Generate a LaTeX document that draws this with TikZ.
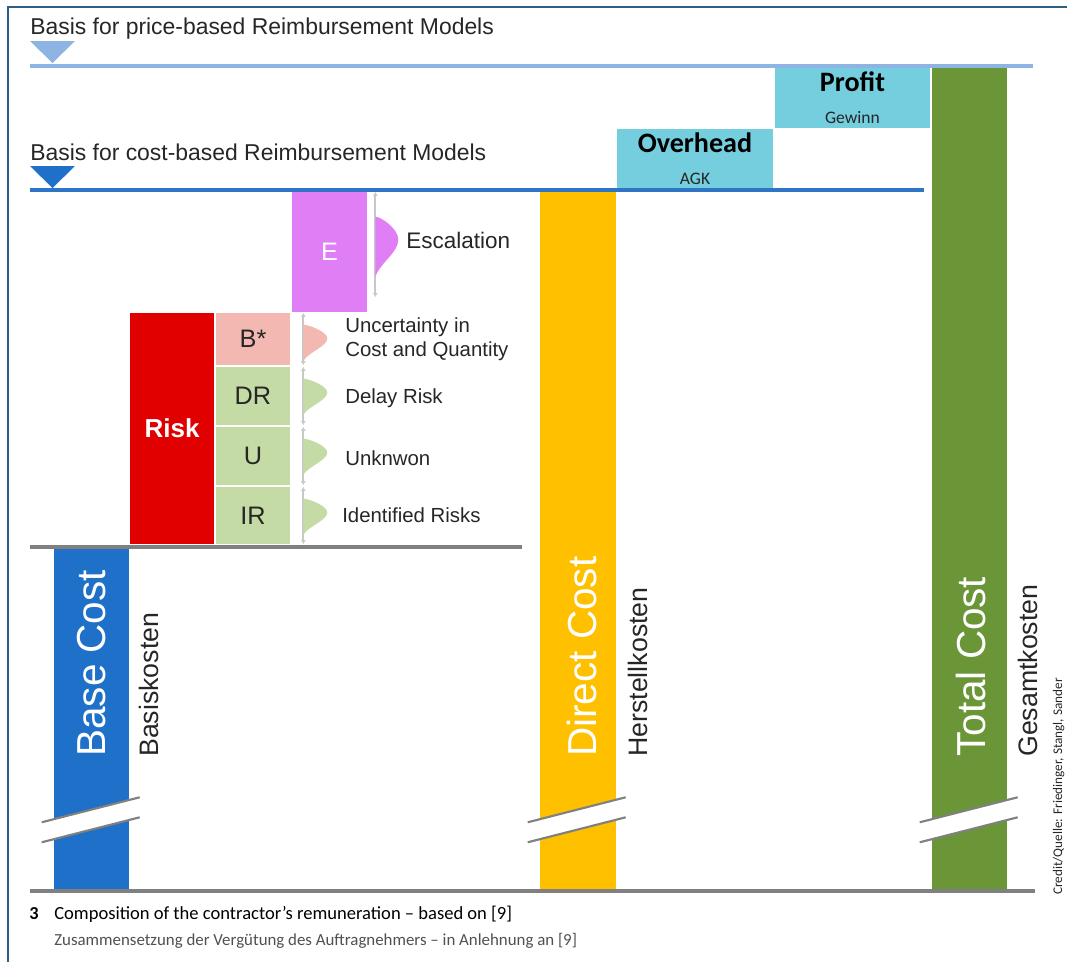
\documentclass[tikz,border=0pt]{standalone}
\usepackage{fontspec}
\setmainfont{Liberation Sans}
\newfontfamily\calibri{Carlito}
\usetikzlibrary{arrows.meta}

\definecolor{framebl}{RGB}{45,96,128}
\definecolor{pricebl}{RGB}{141,180,226}
\definecolor{costbl}{RGB}{46,117,198}
\definecolor{basebl}{RGB}{31,112,200}
\definecolor{ohcyan}{RGB}{116,206,222}
\definecolor{totalgr}{RGB}{107,150,55}
\definecolor{directye}{RGB}{255,192,0}
\definecolor{riskred}{RGB}{224,0,0}
\definecolor{uncpink}{RGB}{244,184,178}
\definecolor{riskgr}{RGB}{196,219,166}
\definecolor{escviol}{RGB}{224,126,246}
\definecolor{axisgr}{RGB}{128,128,128}
\definecolor{dimgr}{RGB}{200,200,200}
\definecolor{txtgr}{RGB}{38,38,38}
\definecolor{capgr}{RGB}{80,80,80}

\begin{document}
\begin{tikzpicture}[x=0.25mm, y=-0.25mm, inner sep=0pt, text=txtgr,
  fs/.style={font=\fontsize{#1}{#1}\selectfont},
  cell/.style 2 args={minimum width=#1*0.25mm, minimum height=#2*0.25mm},
  dim/.style={dimgr, line width=1.2pt, {Latex[length=3pt,width=3.5pt]}-{Latex[length=3pt,width=3.5pt]}},
  level/.style={line width=2.2pt},
  breakmark/.style={axisgr, line width=1.5pt},
  upright/.style={rotate=90, anchor=base west},
  bell/.pic={\fill[pic actions] (0,0) .. controls (0.25,0) and (1,0.2) .. (1,0.38)
    .. controls (1,0.6) and (0.25,0.75) .. (0,1) -- cycle;}]

\useasboundingbox (0,0) rectangle (1067,962);
\draw[framebl, line width=1.3pt] (8,962) -- (8,7) -- (1067,7);

% cost bars
\node[cell={75}{822}, fill=totalgr] (total) at (969.5,479) {};
\node[cell={76}{698}, fill=directye] (direct) at (578,541) {};
\node[cell={75}{341}, fill=basebl] (base) at (91.5,719.5) {};
\node[cell={156}{60}, fill=ohcyan] (overhead) at (695,159) {};
\node[cell={155}{60}, fill=ohcyan] (profit) at (852.5,98) {};
\node[cell={75}{120}, fill=escviol, fs=18, text=white] (esc) at (329.5,252) {E};
\node[cell={84}{231}, fill=riskred, fs=18.5, text=white] (risk) at (172,428.5) {\bfseries Risk};

% risk parts with their spread
\foreach \nm/\txt/\yc/\hgt/\col in {bstar/B*/339/52/uncpink, dr/DR/396/58/riskgr,
    u/U/456/58/riskgr, ir/IR/515.5/57/riskgr} {
  \node[cell={74}{\hgt}, fill=\col, fs=18] (\nm) at (253,\yc) {\txt};
  \draw[dim] ([xshift=3.25mm]\nm.north east) -- ([xshift=3.25mm]\nm.south east);
  \pic[fill=\col, xscale=24, yscale=36] at ([xshift=3.25mm, yshift=-3mm]\nm.north east) {bell};
}
\draw[dim] ([xshift=2mm]esc.north east) -- ([xshift=2mm, yshift=3.75mm]esc.south east);
\pic[fill=escviol, xscale=23, yscale=60] at ([xshift=2mm, yshift=-6.25mm]esc.north east) {bell};

\node[fs=16, anchor=west] (esclbl) at (406,240) {Escalation};
\node[anchor=west, align=left, font=\fontsize{14.5}{17}\selectfont] (unclbl) at (345,339) {Uncertainty in\\Cost and Quantity};
\node[fs=14.5, anchor=west] (drlbl) at (345,398) {Delay Risk};
\node[fs=14.5, anchor=west] (ulbl) at (345,458) {Unknwon};
\node[fs=14.5, anchor=west] (irlbl) at (342,515) {Identified Risks};

% overhead and profit
\node[font=\calibri\bfseries\fontsize{20}{20}\selectfont, text=black] (ohlbl) at ([yshift=-3.5mm]overhead.north) {Overhead};
\node[font=\calibri\fontsize{12.5}{12.5}\selectfont] (agk) at ([yshift=2.5mm]overhead.south) {AGK};
\node[font=\calibri\bfseries\fontsize{20}{20}\selectfont, text=black] (prlbl) at ([yshift=-3.5mm]profit.north) {Profit};
\node[font=\calibri\fontsize{12.5}{12.5}\selectfont] (gewinn) at ([yshift=2.75mm]profit.south) {Gewinn};

% reimbursement levels
\fill[pricebl] (30,41) -- (75,41) -- (52.5,63) -- cycle;
\draw[pricebl, level] (30,66) -- (1033,66);
\node[fs=16.3, anchor=base west] (pricetxt) at (30,34) {Basis for price-based Reimbursement Models};
\fill[basebl] (30,166) -- (75,166) -- (52.5,188) -- cycle;
\draw[costbl, level] (30,190) -- (924,190);
\node[fs=16.3, anchor=base west] (costtxt) at (30,160) {Basis for cost-based Reimbursement Models};

% base lines
\draw[axisgr, level] (30,547) -- (522,547);
\draw[axisgr, level] (30,891) -- (1035,891);

% breaks in the bars
\foreach \b in {base, direct, total} {
  \fill[white] ([xshift=-3mm, yshift=17mm]\b.south west) -- ([xshift=21.5mm, yshift=23.25mm]\b.south west)
    -- ([xshift=21.5mm, yshift=18.25mm]\b.south west) -- ([xshift=-3mm, yshift=12mm]\b.south west) -- cycle;
  \draw[breakmark] ([xshift=-3mm, yshift=17mm]\b.south west) -- ([xshift=21.5mm, yshift=23.25mm]\b.south west);
  \draw[breakmark] ([xshift=-3mm, yshift=12mm]\b.south west) -- ([xshift=21.5mm, yshift=18.25mm]\b.south west);
}

% bar labels
\node[upright, fs=28.8, text=white] (basetxt) at (105,757) {Base Cost};
\node[upright, fs=19] (basede) at (158,757) {Basiskosten};
\node[upright, fs=28.8, text=white] (directtxt) at (596,757) {Direct Cost};
\node[upright, fs=19] (directde) at (647,757) {Herstellkosten};
\node[upright, fs=28.8, text=white] (totaltxt) at (985,757) {Total Cost};
\node[upright, fs=19] (totalde) at (1037,757) {Gesamtkosten};
\node[upright, font=\calibri\fontsize{9.4}{9.4}\selectfont] (credit) at (1062,895) {Credit/Quelle: Friedinger, Stangl, Sander};

% caption
\node[anchor=base west, font=\calibri\bfseries\fontsize{13}{13}\selectfont, text=black] (capno) at (29,919) {3};
\node[anchor=base west, font=\calibri\fontsize{13.2}{13.2}\selectfont, text=black] (capen) at (54,919) {Composition of the contractor’s remuneration – based on [9]};
\node[anchor=base west, font=\calibri\fontsize{12}{12}\selectfont, text=capgr] (capde) at (54,945) {Zusammensetzung der Vergütung des Auftragnehmers – in Anlehnung an [9]};
\end{tikzpicture}
\end{document}
